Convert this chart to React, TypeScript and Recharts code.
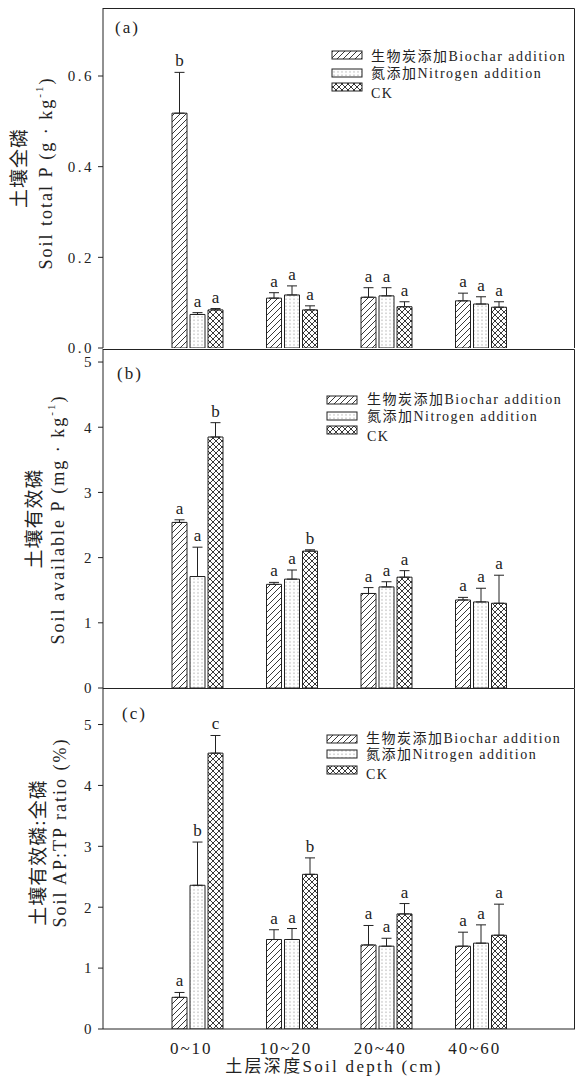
import React from 'react';
import { BarChart, Bar, XAxis, YAxis, ErrorBar, LabelList } from 'recharts';

const depths = ['0~10', '10~20', '20~40', '40~60'];
const seriesNames = ['生物炭添加Biochar addition', '氮添加Nitrogen addition', 'CK'];

// (a) soil total P, g/kg
const tpBiochar = [0.518, 0.110, 0.112, 0.104];
const tpBiocharErr = [0.090, 0.012, 0.021, 0.017];
const tpBiocharSig = ['b', 'a', 'a', 'a'];
const tpNitrogen = [0.074, 0.117, 0.115, 0.097];
const tpNitrogenErr = [0.004, 0.020, 0.018, 0.016];
const tpNitrogenSig = ['a', 'a', 'a', 'a'];
const tpCK = [0.084, 0.084, 0.091, 0.090];
const tpCKErr = [0.003, 0.009, 0.011, 0.012];
const tpCKSig = ['a', 'a', 'a', 'a'];
const tpTicks = [0, 0.2, 0.4, 0.6];

// (b) soil available P, mg/kg
const apBiochar = [2.54, 1.59, 1.45, 1.35];
const apBiocharErr = [0.04, 0.03, 0.09, 0.04];
const apBiocharSig = ['a', 'a', 'a', 'a'];
const apNitrogen = [1.71, 1.67, 1.55, 1.32];
const apNitrogenErr = [0.45, 0.14, 0.08, 0.21];
const apNitrogenSig = ['a', 'a', 'a', 'a'];
const apCK = [3.85, 2.10, 1.70, 1.30];
const apCKErr = [0.22, 0.02, 0.10, 0.43];
const apCKSig = ['b', 'b', 'a', 'a'];
const apTicks = [0, 1, 2, 3, 4, 5];

// (c) AP:TP ratio, %
const ratioBiochar = [0.52, 1.47, 1.38, 1.36];
const ratioBiocharErr = [0.08, 0.16, 0.32, 0.23];
const ratioBiocharSig = ['a', 'a', 'a', 'a'];
const ratioNitrogen = [2.36, 1.47, 1.36, 1.41];
const ratioNitrogenErr = [0.71, 0.18, 0.13, 0.30];
const ratioNitrogenSig = ['b', 'a', 'a', 'a'];
const ratioCK = [4.53, 2.54, 1.89, 1.54];
const ratioCKErr = [0.29, 0.27, 0.17, 0.51];
const ratioCKSig = ['c', 'b', 'a', 'a'];
const ratioTicks = [0, 1, 2, 3, 4, 5];

const SERIF = "'Liberation Serif', 'Times New Roman', 'Noto Sans CJK SC', serif";
const INK = '#222';
const fills = ['hatch', 'dots', 'cross'];
const PLOT_LEFT = 103;
const PLOT_RIGHT = 575;
const X_AXIS_H = 45;

const buildRows = (vals: number[][], errs: number[][], sig: string[][]) =>
  depths.map((depth, k) => {
    const row: any = { depth };
    for (let i = 0; i < 3; i++) {
      row[`v${i}`] = vals[i][k];
      row[`e${i}`] = errs[i][k];
      row[`s${i}`] = sig[i][k];
    }
    return row;
  });

const panels = [
  {
    id: 'a', tag: '(a)', tagX: 115, tagY: 33,
    top: 0, height: 362, mTop: 8, mBottom: 14,
    domain: [0, 0.75], ticks: tpTicks, fmt: (v: number) => v.toFixed(1),
    rows: buildRows([tpBiochar, tpNitrogen, tpCK], [tpBiocharErr, tpNitrogenErr, tpCKErr], [tpBiocharSig, tpNitrogenSig, tpCKSig]),
    cn: '土壤全磷', en: 'Soil total P (g · kg', cnX: 19, enX: 46, cnDy: -10, enDy: -5,
    legend: { x: 332, tx: 371, tops: [51, 69, 83], bases: [61, 78, 98] },
  },
  {
    id: 'b', tag: '(b)', tagX: 117, tagY: 379,
    top: 339, height: 362, mTop: 10, mBottom: 13,
    domain: [0, 5.2], ticks: apTicks, fmt: (v: number) => String(v),
    rows: buildRows([apBiochar, apNitrogen, apCK], [apBiocharErr, apNitrogenErr, apCKErr], [apBiocharSig, apNitrogenSig, apCKSig]),
    cn: '土壤有效磷', en: 'Soil available P (mg · kg', cnX: 34, enX: 58, cnDy: 0, enDy: 1,
    legend: { x: 327, tx: 367, tops: [396, 412, 426], bases: [404, 421, 441] },
  },
  {
    id: 'c', tag: '(c)', tagX: 122, tagY: 719,
    top: 678, height: 407, mTop: 10, mBottom: 11,
    domain: [0, 5.6], ticks: ratioTicks, fmt: (v: number) => String(v),
    rows: buildRows([ratioBiochar, ratioNitrogen, ratioCK], [ratioBiocharErr, ratioNitrogenErr, ratioCKErr], [ratioBiocharSig, ratioNitrogenSig, ratioCKSig]),
    cn: '土壤有效磷:全磷', en: 'Soil AP:TP ratio (%)', cnX: 38, enX: 60, cnDy: -6, enDy: -26,
    legend: { x: 327, tx: 366, tops: [735, 750, 766], bases: [743, 759, 779] },
  },
];

const PatternDefs = ({ prefix }: { prefix: string }) => (
  <defs>
    <pattern id={`${prefix}-hatch`} patternUnits="userSpaceOnUse" width="6" height="6">
      <rect width="6" height="6" fill="#fff" />
      <path d="M-1,1 l2,-2 M0,6 l6,-6 M5,7 l2,-2" stroke={INK} strokeWidth="0.9" />
    </pattern>
    <pattern id={`${prefix}-dots`} patternUnits="userSpaceOnUse" width="4" height="3.5">
      <rect width="4" height="3.5" fill="#fff" />
      <circle cx="2" cy="1.75" r="0.5" fill="#444" />
    </pattern>
    <pattern id={`${prefix}-cross`} patternUnits="userSpaceOnUse" width="6" height="6">
      <rect width="6" height="6" fill="#fff" />
      <path d="M0,0 L6,6 M6,0 L0,6" stroke={INK} strokeWidth="0.9" />
    </pattern>
  </defs>
);

// two-line rotated y title: Chinese on the outside, English inside
const AxisTitle = (props: any) => {
  const { viewBox, cn, en, cnX, enX, cnDy, enDy, unitSup } = props;
  const cy = viewBox.y + viewBox.height / 2;
  return (
    <g>
      <text transform={`translate(${cnX},${cy + cnDy}) rotate(-90)`} textAnchor="middle" dominantBaseline="central"
        fontFamily={SERIF} fontSize={19} letterSpacing={1} fill={INK}>{cn}</text>
      <text transform={`translate(${enX},${cy + enDy}) rotate(-90)`} textAnchor="middle" dominantBaseline="central"
        fontFamily={SERIF} fontSize={18} letterSpacing={2} fill={INK}>
        {en}
        {unitSup && <tspan dy={-7} fontSize={11}>-1</tspan>}
        {unitSup && <tspan dy={7}>)</tspan>}
      </text>
    </g>
  );
};

const Panel = ({ p, last }: { p: any; last: boolean }) => (
  <div style={{ position: 'absolute', left: 0, top: p.top }}>
    <BarChart width={576} height={p.height} data={p.rows} barSize={15} barGap={3}
      margin={{ top: p.mTop, right: 576 - PLOT_RIGHT, bottom: p.mBottom, left: 0 }}>
      <PatternDefs prefix={p.id} />
      <XAxis xAxisId="x" dataKey="depth" padding={{ left: 47, right: 47 }} height={last ? X_AXIS_H : 0}
        axisLine={{ stroke: INK }} tickLine={false} tickSize={0} tickMargin={13}
        tick={last ? { fill: INK, fontSize: 17, fontFamily: SERIF, letterSpacing: 2, dx: -6 } : false}
        label={last ? { value: '土层深度Soil depth (cm)', position: 'insideBottom', offset: 2, dx: -5, fill: INK, fontSize: 17, fontFamily: SERIF, letterSpacing: 2.3 } : undefined} />
      <YAxis yAxisId="y" width={PLOT_LEFT} type="number" domain={p.domain} ticks={p.ticks} interval={0} allowDataOverflow
        tickFormatter={p.fmt} tickSize={5} tickMargin={4} axisLine={{ stroke: INK }} tickLine={{ stroke: INK }}
        tick={{ fill: INK, fontSize: 15, fontFamily: SERIF, letterSpacing: 2.5 }}
        label={<AxisTitle cn={p.cn} en={p.en} cnX={p.cnX} enX={p.enX} cnDy={p.cnDy} enDy={p.enDy} unitSup={p.id !== 'c'} />} />
      {[0, 1, 2].map((i) => (
        <React.Fragment key={i}>
          <Bar xAxisId="x" yAxisId="y" dataKey={`v${i}`} stackId={`s${i}`} fill={`url(#${p.id}-${fills[i]})`}
            stroke={INK} strokeWidth={1} isAnimationActive={false}>
            <ErrorBar dataKey={(d: any) => [0, d[`e${i}`]]} direction="y" width={5} stroke={INK} strokeWidth={1} />
          </Bar>
          {/* transparent cap sitting on the error bar, carries the significance letter */}
          <Bar xAxisId="x" yAxisId="y" dataKey={`e${i}`} stackId={`s${i}`} fill="none" stroke="none" isAnimationActive={false}>
            <LabelList dataKey={`s${i}`} position="top" offset={6} fill={INK} fontSize={17} fontFamily={SERIF} />
          </Bar>
        </React.Fragment>
      ))}
    </BarChart>
  </div>
);

const Overlay = () => (
  <svg width={576} height={1085} style={{ position: 'absolute', left: 0, top: 0, pointerEvents: 'none' }}>
    <PatternDefs prefix="lg" />
    {panels.map((p, k) => {
      const plotTop = p.top + p.mTop;
      const plotBottom = p.top + p.height - p.mBottom - (k === panels.length - 1 ? X_AXIS_H : 0);
      return (
        <g key={p.id} fontFamily={SERIF} fill={INK}>
          {/* top and right edges of the panel frame */}
          <path d={`M${PLOT_LEFT},${plotTop + 0.5} H${PLOT_RIGHT - 0.5} V${plotBottom}`} fill="none" stroke={INK} strokeWidth={1} />
          <text x={p.tagX} y={p.tagY} fontSize={17} letterSpacing={2}>{p.tag}</text>
          {seriesNames.map((name, i) => (
            <g key={name}>
              <rect x={p.legend.x} y={p.legend.tops[i]} width={30} height={8} fill={`url(#lg-${fills[i]})`} stroke={INK} strokeWidth={1} />
              <text x={p.legend.tx} y={p.legend.bases[i]} fontSize={14} letterSpacing={1.5}>{name}</text>
            </g>
          ))}
        </g>
      );
    })}
  </svg>
);

export default function App() {
  return (
    <div style={{ position: 'absolute', left: 0, top: 0, width: 576, height: 1085, background: '#fff' }}>
      {panels.map((p, k) => (
        <Panel key={p.id} p={p} last={k === panels.length - 1} />
      ))}
      <Overlay />
    </div>
  );
}
